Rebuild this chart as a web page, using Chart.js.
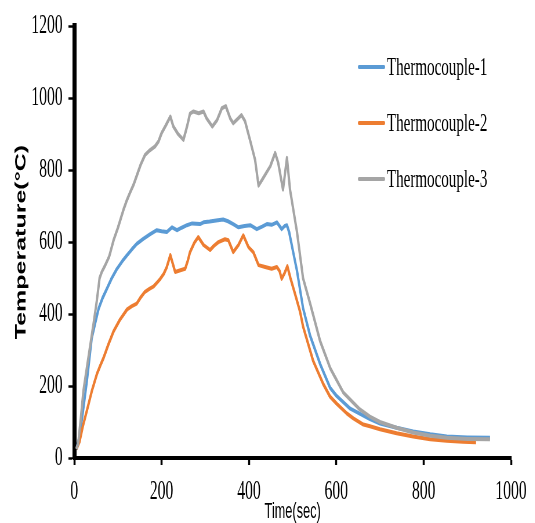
<!DOCTYPE html>
<html lang="en">
<head>
<meta charset="UTF-8" />
<title>Thermocouple temperatures</title>
<script src="https://cdn.jsdelivr.net/npm/chart.js"></script>
<style>
  html, body { margin: 0; padding: 0; background: #fff; overflow: hidden; }
  /* chart is laid out wide, then squeezed sideways to get the narrow serif look */
  #wrap { width: 922px; height: 523px; transform: scaleX(0.58); transform-origin: 0 0; }
</style>
</head>
<body>
<div id="wrap"><canvas id="chartTemp"></canvas></div>

<script>
  // readings (time in sec, temperature in °C)
  var timeTC1 = [5, 12, 20, 29, 40, 48, 56, 65, 75, 86, 98, 110, 121, 132, 143, 158, 174, 189, 200, 212, 224, 235, 246, 258, 270, 288, 296, 310, 325, 341, 352, 364, 376, 390, 403, 418, 430, 441, 452, 464, 475, 482, 487, 492, 500, 510, 524, 540, 563, 586, 601, 632, 677, 700, 738, 776, 815, 853, 900, 952];
  var tempTC1 = [25, 60, 130, 215, 333, 375, 416, 445, 471, 500, 526, 547, 564, 580, 595, 609, 622, 633, 630, 628, 641, 633, 640, 647, 652, 650, 655, 657, 660, 663, 658, 650, 641, 645, 647, 636, 643, 650, 648, 655, 636, 645, 647, 628, 580, 520, 416, 340, 261, 195, 172, 137, 108, 96, 84, 74, 66, 60, 57, 56];

  var timeTC2 = [5, 12, 20, 29, 40, 52, 60, 67, 78, 90, 105, 121, 132, 143, 153, 162, 172, 181, 190, 197, 205, 212, 220, 231, 243, 254, 260, 265, 275, 284, 296, 311, 320, 330, 345, 353, 364, 376, 387, 399, 410, 422, 437, 452, 464, 470, 475, 482, 488, 495, 506, 517, 524, 547, 570, 586, 601, 624, 639, 662, 677, 700, 738, 776, 815, 853, 890, 920];
  var tempTC2 = [25, 45, 90, 132, 185, 234, 258, 278, 315, 352, 385, 413, 422, 429, 448, 462, 470, 476, 488, 498, 512, 531, 564, 517, 522, 526, 548, 572, 598, 614, 592, 578, 590, 600, 608, 605, 572, 592, 619, 586, 572, 536, 531, 526, 531, 520, 498, 515, 533, 500, 454, 407, 365, 270, 206, 170, 151, 124, 110, 93, 88, 80, 69, 60, 52, 48, 45, 44];

  var timeTC3 = [5, 9, 15, 21, 30, 37, 45, 52, 58, 63, 71, 80, 90, 100, 113, 120, 128, 136, 143, 152, 162, 173, 185, 193, 200, 210, 220, 227, 238, 250, 258, 265, 273, 285, 296, 303, 316, 327, 338, 347, 357, 364, 374, 383, 391, 403, 414, 422, 433, 449, 460, 467, 478, 487, 494, 510, 524, 540, 563, 586, 616, 654, 677, 700, 738, 776, 815, 853, 900, 952];
  var tempTC3 = [25, 40, 110, 187, 260, 316, 380, 440, 500, 517, 536, 560, 605, 640, 691, 715, 738, 760, 784, 815, 842, 855, 866, 880, 903, 925, 949, 921, 900, 884, 920, 957, 963, 958, 963, 944, 921, 939, 972, 978, 944, 930, 942, 953, 936, 881, 829, 757, 779, 811, 848, 820, 746, 834, 746, 628, 499, 430, 325, 250, 182, 135, 115, 100, 84, 71, 62, 56, 53, 52];

  var seriesNames = ['Thermocouple-1', 'Thermocouple-2', 'Thermocouple-3'];
  var seriesColors = ['#5B9BD5', '#ED7D31', '#A5A5A5'];

  var xMin = 0, xMax = 1000, xStep = 200;
  var yMin = 0, yMax = 1200, yStep = 200;

  function toPoints(times, temps) {
    return times.map(function (t, i) { return { x: t, y: temps[i] }; });
  }

  // plain numbers on the axes, no thousands separator
  function plainTick(value) { return String(value); }

  // legend sits inside the plot, stacked on the right
  var sideLegend = {
    id: 'sideLegend',
    afterDraw: function (chart) {
      var ctx = chart.ctx;
      ctx.save();
      ctx.font = '26px "Liberation Serif"';
      ctx.textBaseline = 'middle';
      ctx.textAlign = 'left';
      chart.data.datasets.forEach(function (ds, i) {
        var y = 67 + i * 56;
        ctx.strokeStyle = ds.borderColor;
        ctx.lineWidth = 4;
        ctx.lineCap = 'round';
        ctx.beginPath();
        ctx.moveTo(619, y);
        ctx.lineTo(662, y);
        ctx.stroke();
        ctx.fillStyle = '#000';
        ctx.fillText(ds.label, 667, y + 1);
      });
      ctx.restore();
    }
  };

  var ctxTemp = document.getElementById('chartTemp').getContext('2d');
  var chartTemp = new Chart(ctxTemp, {
    type: 'line',
    data: {
      datasets: [
        { label: seriesNames[0], data: toPoints(timeTC1, tempTC1), borderColor: seriesColors[0], order: 3 },
        { label: seriesNames[1], data: toPoints(timeTC2, tempTC2), borderColor: seriesColors[1], order: 2 },
        { label: seriesNames[2], data: toPoints(timeTC3, tempTC3), borderColor: seriesColors[2], order: 1 }
      ]
    },
    options: {
      responsive: true,
      maintainAspectRatio: false,
      animation: false,
      layout: { padding: { top: 22, right: 41, bottom: 0, left: 0 } },
      elements: {
        point: { radius: 0 },
        line: { borderWidth: 4, tension: 0, fill: false, borderJoinStyle: 'round' }
      },
      plugins: {
        legend: { display: false },
        tooltip: { enabled: false }
      },
      scales: {
        x: {
          type: 'linear',
          min: xMin, max: xMax,
          ticks: { stepSize: xStep, callback: plainTick, color: '#000', padding: 11, maxRotation: 0, font: { family: 'Liberation Serif', size: 27 } },
          grid: { drawOnChartArea: false, drawTicks: true, tickLength: 7, tickWidth: 3.5, tickColor: '#000' },
          border: { color: '#000', width: 4 },
          title: { display: true, text: 'Time(sec)', color: '#000', padding: 0, font: { family: 'Liberation Sans', size: 22, lineHeight: 1 } },
          afterFit: function (scale) { scale.height = 65; }
        },
        y: {
          min: yMin, max: yMax,
          ticks: { stepSize: yStep, callback: plainTick, color: '#000', padding: 10, font: { family: 'Liberation Serif', size: 27 } },
          grid: { drawOnChartArea: false, drawTicks: true, tickLength: 10, tickWidth: 2.5, tickColor: '#000' },
          border: { color: '#000', width: 7 },
          title: { display: true, text: 'Temperature(°C)', color: '#000', padding: { top: 25 }, font: { family: 'Liberation Sans', size: 25, weight: 'bold', lineHeight: 1 } },
          afterFit: function (scale) { scale.width = 128; }
        }
      }
    },
    plugins: [sideLegend]
  });
</script>
</body>
</html>
